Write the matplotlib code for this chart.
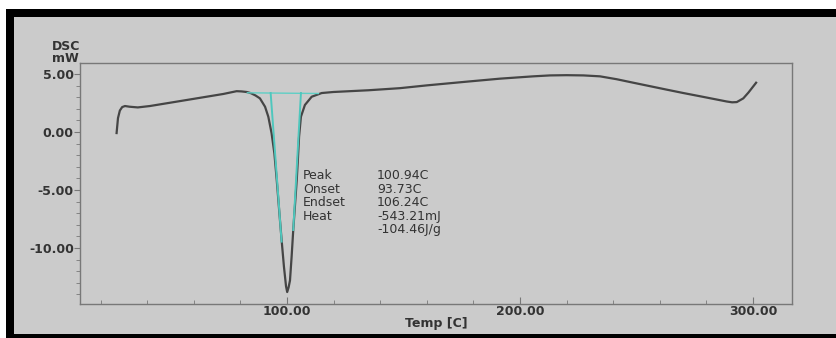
import matplotlib.pyplot as plt
from matplotlib.patches import Rectangle

# DSC trace (temperature in C, heat flow in mW)
temp = [26.9, 27.5, 28.3, 29.3, 30.5, 32.5, 36.0, 41.2, 50.0, 60.0, 72.7,
        78.4, 80.5, 82.7, 84.5, 86.5, 88.4, 90.6, 92.0, 93.4, 94.6, 95.6,
        97.0, 97.7, 98.7, 99.6, 100.1, 100.7, 101.3, 102.0, 102.7, 104.2,
        104.6, 105.2, 106.0, 107.7, 110.6, 114.9, 119.9, 135.0, 148.5,
        160.0, 177.1, 191.4, 205.7, 212.9, 220.0, 227.2, 234.3, 241.5,
        248.6, 255.8, 263.0, 270.1, 277.3, 284.4, 288.7, 291.0, 293.0,
        295.8, 298.0, 301.3]
dsc = [-0.09, 1.2, 1.85, 2.15, 2.24, 2.18, 2.12, 2.24, 2.53, 2.86, 3.28,
       3.52, 3.5, 3.45, 3.35, 3.15, 2.9, 2.18, 1.32, -0.1, -1.84, -4.1,
       -7.6, -9.3, -11.6, -13.3, -13.8, -13.4, -12.8, -10.75, -8.45, -4.14,
       -2.7, -0.4, 1.32, 2.33, 3.04, 3.36, 3.45, 3.6, 3.78,
       4.02, 4.34, 4.6, 4.8, 4.88, 4.9, 4.88, 4.8, 4.55,
       4.25, 3.95, 3.65, 3.36, 3.08, 2.8, 2.63, 2.56, 2.58,
       2.9, 3.4, 4.25]

# peak analysis construction lines
baseline_t = [83.0, 113.5]
baseline_v = [3.38, 3.32]
onset_t = [93.0, 97.7]
onset_v = [3.36, -9.45]
endset_t = [106.0, 102.7]
endset_v = [3.36, -8.45]

result_names = ["Peak", "Onset", "Endset", "Heat", ""]
result_values = ["100.94C", "93.73C", "106.24C", "-543.21mJ", "-104.46J/g"]

xticks = [100, 200, 300]
yticks = [-10, -5, 0, 5]

bg = "#cbcbcb"
text_col = "#333333"

fig = plt.figure(figsize=(8.37, 3.38), dpi=100, facecolor="white")
# black frame with grey panel inside
fig.patches.append(Rectangle((6 / 837, 0), 1, 329 / 338, transform=fig.transFigure,
                             facecolor="black", edgecolor="none", zorder=-2))
fig.patches.append(Rectangle((14 / 837, 4 / 338), 1, 317 / 338, transform=fig.transFigure,
                             facecolor=bg, edgecolor="none", zorder=-1))

ax = fig.add_axes([80 / 837, 34 / 338, 712 / 837, 241 / 338])
ax.set_facecolor(bg)

ax.plot(temp, dsc, color="#454545", lw=1.6, zorder=2)
ax.plot(baseline_t, baseline_v, color="#5fcfc5", lw=1.0, zorder=3)
ax.plot(onset_t, onset_v, color="#4fc7bd", lw=1.4, zorder=3)
ax.plot(endset_t, endset_v, color="#4fc7bd", lw=1.4, zorder=3)

ax.set_xlim(11.2, 316.7)
ax.set_ylim(-14.83, 5.95)

for s in ax.spines.values():
    s.set_color("#787878")
    s.set_linewidth(1.0)

ax.set_xticks(xticks)
ax.set_xticklabels([f"{t:.2f}" for t in xticks])
ax.set_xticks(range(20, 320, 20), minor=True)
ax.set_yticks(yticks)
ax.set_yticklabels([f"{v:.2f}" for v in yticks])
ax.set_yticks(range(-14, 6), minor=True)

ax.tick_params(axis="x", which="major", direction="in", length=5, pad=1,
               color="#787878", labelcolor=text_col, labelsize=9)
ax.tick_params(axis="x", which="minor", direction="in", length=3, color="#787878")
ax.tick_params(axis="y", which="major", direction="out", length=4, pad=0.5,
               color="#787878", labelcolor=text_col, labelsize=9)
ax.tick_params(axis="y", which="minor", direction="out", length=3, color="#787878")
for lab in ax.get_xticklabels() + ax.get_yticklabels():
    lab.set_fontweight("bold")

ax.set_xlabel("Temp [C]", fontsize=9, fontweight="bold", color=text_col, labelpad=-1)
ax.text(-0.02, 0.99, "DSC\nmW", transform=ax.transAxes, ha="center", va="bottom",
        fontsize=9, fontweight="bold", color=text_col, linespacing=0.95)

ax.text(0.313, 0.56, "\n".join(result_names), transform=ax.transAxes, ha="left",
        va="top", fontsize=9, color=text_col, linespacing=1.05)
ax.text(0.417, 0.56, "\n".join(result_values), transform=ax.transAxes, ha="left",
        va="top", fontsize=9, color=text_col, linespacing=1.05)

fig.savefig("out.png", dpi=100, facecolor=fig.get_facecolor())
